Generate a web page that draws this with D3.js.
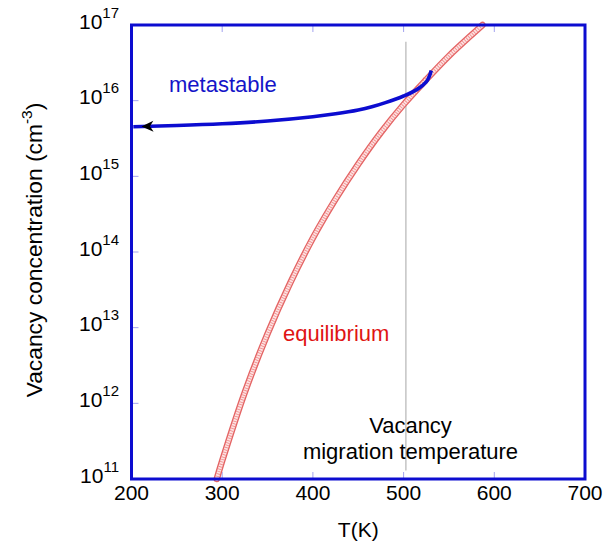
<!DOCTYPE html>
<html>
<head>
<meta charset="utf-8">
<script src="https://cdn.jsdelivr.net/npm/d3@7"></script>
<style>
  html, body { margin: 0; padding: 0; background: #fff; }
  svg { display: block; font-family: "Liberation Sans", Arial, sans-serif; }
</style>
</head>
<body>
<svg id="chart" width="606" height="542"></svg>
<script>
// Temperature axis (K) and concentration axis (cm^-3) ticks
const xTicks = [200, 300, 400, 500, 600, 700];
const yExponents = [11, 12, 13, 14, 15, 16, 17];

// Equilibrium vacancy concentration
const eqTemp = [294, 300, 325, 350, 375, 400, 425, 450, 475, 500, 525, 550, 575, 587];
const eqConc = [1.0e11, 1.74e11, 1.41e12, 8.3e12, 3.9e13, 1.53e14, 5.0e14, 1.45e15,
                3.8e15, 8.9e15, 1.9e16, 3.9e16, 7.4e16, 1.0e17];

// Quenched (metastable) vacancy concentration on cooling
const metaTemp = [202, 250, 300, 350, 400, 425, 450, 465, 480, 500, 515, 525, 528.5, 530.5];
const metaConc = [4.53e15, 4.69e15, 4.95e15, 5.38e15, 6.12e15, 6.70e15, 7.53e15, 8.30e15,
                  9.42e15, 1.153e16, 1.41e16, 1.77e16, 2.12e16, 2.51e16];

// Vacancy migration temperature marker
const migrationT = 502.5;
const migrationConc = [1.3e11, 6.0e16];

const svg = d3.select("#chart");
const mLeft = 131.5, mRight = 585, mTop = 25, mBottom = 479;

const x = d3.scaleLinear().domain([200, 700]).range([mLeft, mRight]);
const y = d3.scaleLog().domain([1e11, 1e17]).range([mBottom, mTop]);

const frameBlue = "#0c0cd0";
const tickBlue = "#a3a3ef";

// inner tick marks
const tickLen = 7;
const inner = xTicks.slice(1, -1);
svg.append("g").selectAll("line").data(inner).join("line")
  .attr("x1", d => x(d)).attr("x2", d => x(d))
  .attr("y1", mTop).attr("y2", mTop + tickLen)
  .attr("stroke", tickBlue).attr("stroke-width", 1);
svg.append("g").selectAll("line").data(inner).join("line")
  .attr("x1", d => x(d)).attr("x2", d => x(d))
  .attr("y1", mBottom).attr("y2", mBottom - tickLen)
  .attr("stroke", tickBlue).attr("stroke-width", 1);
svg.append("g").selectAll("line").data(yExponents.slice(1, -1)).join("line")
  .attr("x1", mLeft).attr("x2", mLeft + tickLen)
  .attr("y1", d => y(Math.pow(10, d))).attr("y2", d => y(Math.pow(10, d)))
  .attr("stroke", tickBlue).attr("stroke-width", 1);

// migration temperature line
svg.append("line")
  .attr("x1", x(migrationT)).attr("x2", x(migrationT))
  .attr("y1", y(migrationConc[1])).attr("y2", y(migrationConc[0]))
  .attr("stroke", "#c4c4c4").attr("stroke-width", 1.5);

// equilibrium curve, drawn as a band of open circles
const eqData = eqTemp.map((t, i) => [t, eqConc[i]]);
const lineGen = d3.line().x(d => x(d[0])).y(d => y(d[1])).curve(d3.curveCatmullRom.alpha(0.5));
const eqPath = lineGen(eqData);
svg.append("path").attr("d", eqPath).attr("fill", "none")
  .attr("stroke", "#e46464").attr("stroke-width", 6.5).attr("stroke-linecap", "round");
svg.append("path").attr("d", eqPath).attr("fill", "none")
  .attr("stroke", "#fde2e2").attr("stroke-width", 3.8).attr("stroke-linecap", "round");
svg.append("path").attr("d", eqPath).attr("fill", "none")
  .attr("stroke", "#ee8a8a").attr("stroke-width", 3.8)
  .attr("stroke-dasharray", "0.8 1.7");

// metastable curve
const metaData = metaTemp.map((t, i) => [t, metaConc[i]]);
svg.append("path").attr("d", lineGen(metaData)).attr("fill", "none")
  .attr("stroke", frameBlue).attr("stroke-width", 3.6).attr("stroke-linecap", "butt");

// arrowhead pointing toward low temperature
const arrowT = 211;
const ax = x(arrowT), ay = y(metaConc[0]) + (y(metaConc[1]) - y(metaConc[0])) * (arrowT - metaTemp[0]) / (metaTemp[1] - metaTemp[0]);
const ang = Math.atan2(y(metaConc[1]) - y(metaConc[0]), x(metaTemp[1]) - x(metaTemp[0])) * 180 / Math.PI;
svg.append("path")
  .attr("d", "M0,0 L12,-5.5 L8.5,0 L12,5.5 Z")
  .attr("transform", `translate(${ax},${ay}) rotate(${ang})`)
  .attr("fill", "#000");

// plot frame
svg.append("rect")
  .attr("x", mLeft).attr("y", mTop).attr("width", mRight - mLeft).attr("height", mBottom - mTop)
  .attr("fill", "none").attr("stroke", frameBlue).attr("stroke-width", 3);

// x tick labels
svg.append("g").selectAll("text").data(xTicks).join("text")
  .attr("x", d => x(d)).attr("y", mBottom + 21)
  .attr("text-anchor", "middle").attr("font-size", 21).attr("fill", "#000")
  .text(d => d);

// y tick labels: 10 with superscript exponent
const yl = svg.append("g").selectAll("text").data(yExponents).join("text")
  .attr("x", 119).attr("y", d => y(Math.pow(10, d)) + 3.5)
  .attr("text-anchor", "end").attr("font-size", 21).attr("fill", "#000");
yl.append("tspan").text("10");
yl.append("tspan").attr("dy", -11).attr("font-size", 15).text(d => d);

// axis titles
svg.append("text")
  .attr("x", (mLeft + mRight) / 2).attr("y", 537)
  .attr("text-anchor", "middle").attr("font-size", 21).attr("fill", "#000")
  .text("T(K)");

const yt = svg.append("text")
  .attr("transform", `translate(41.5,${(mTop + mBottom) / 2 - 2}) rotate(-90)`)
  .attr("text-anchor", "middle").attr("font-size", 22.8).attr("fill", "#000");
yt.append("tspan").text("Vacancy concentration (cm");
yt.append("tspan").attr("dy", -10).attr("font-size", 15.5).text("-3");
yt.append("tspan").attr("dy", 10).text(")");

// curve annotations
svg.append("text").attr("x", 169).attr("y", 92)
  .attr("font-size", 22).attr("fill", "#1414c8").text("metastable");
svg.append("text").attr("x", 283).attr("y", 341)
  .attr("font-size", 22).attr("fill", "#e01414").text("equilibrium");
svg.append("text").attr("x", 410.5).attr("y", 432.5)
  .attr("text-anchor", "middle").attr("font-size", 22).attr("fill", "#000").text("Vacancy");
svg.append("text").attr("x", 410.5).attr("y", 458.5)
  .attr("text-anchor", "middle").attr("font-size", 22).attr("fill", "#000").text("migration temperature");
</script>
</body>
</html>
